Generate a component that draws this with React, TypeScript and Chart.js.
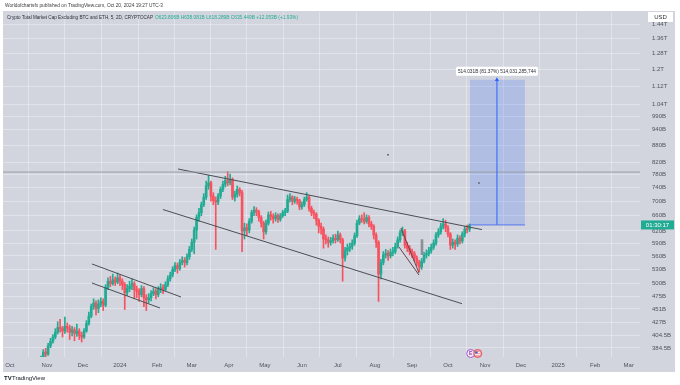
import React, { useEffect, useRef } from "react";
import { Chart, registerables } from "chart.js";

Chart.register(...registerables);

// x values are days counted from 1 Jan 2024; prices in billions USD
const candleStartDay = -66;
const candleStepDays = 2;
const firstOpen = 362;

const closeValues = [
  368, 378, 375, 388, 395, 402, 410, 418, 416, 412,
  420, 417, 410, 414, 408, 412, 405, 402, 412, 425,
  438, 455, 462, 452, 460, 465, 458, 492, 505, 500,
  508, 503, 512, 505, 498, 482, 490, 495, 500, 488,
  485, 478, 490, 472, 468, 472, 480, 485, 478, 488,
  492, 488, 498, 510, 518, 530, 538, 532, 545, 550,
  545, 558, 575, 592, 622, 655, 668, 690, 712, 745,
  755, 715, 702, 698, 715, 735, 750, 762, 755, 765,
  712, 720, 735, 725, 620, 628, 622, 645, 668, 675,
  670, 655, 640, 618, 640, 662, 658, 652, 660, 650,
  660, 668, 672, 705, 712, 700, 706, 702, 684, 690,
  705, 712, 680, 668, 664, 648, 632, 625, 600, 598,
  592, 596, 602, 598, 610, 598, 555, 572, 578, 582,
  590, 608, 640, 652, 650, 645, 655, 638, 632, 610,
  592, 520, 545, 562, 566, 560, 568, 570, 582, 598,
  615, 620, 585, 578, 570, 565, 555, 545, 535, 548,
  562, 565, 572, 580, 590, 610, 618, 632, 638, 628,
  612, 585, 592, 588, 602, 595, 612, 625, 623.806, 635.449,
];

const highValues = [
  372, 382, 384, 392, 400, 406, 416, 428, 432, 420,
  436, 426, 422, 420, 418, 424, 416, 410, 416, 430,
  445, 460, 470, 466, 468, 472, 470, 498, 512, 515,
  520, 514, 522, 518, 510, 502, 498, 505, 510, 504,
  495, 490, 496, 494, 478, 480, 486, 492, 490, 494,
  500, 498, 504, 516, 524, 536, 545, 544, 552, 558,
  556, 565, 582, 600, 630, 662, 680, 698, 722, 760,
  778, 760, 725, 712, 722, 742, 760, 775, 790, 782,
  770, 730, 745, 740, 732, 640, 638, 652, 675, 685,
  682, 675, 660, 645, 648, 670, 672, 665, 668, 665,
  666, 675, 680, 718, 722, 716, 714, 712, 706, 698,
  712, 725, 716, 686, 675, 668, 652, 640, 630, 610,
  605, 604, 610, 612, 620, 615, 602, 580, 588, 590,
  598, 615, 648, 660, 662, 668, 662, 660, 645, 636,
  615, 596, 552, 570, 575, 572, 576, 580, 590, 605,
  622, 630, 624, 592, 584, 576, 570, 560, 550, 554,
  568, 574, 580, 588, 598, 616, 626, 640, 652, 648,
  634, 616, 600, 598, 610, 608, 618, 632, 635, 638.081,
];

const lowValues = [
  358, 365, 370, 373, 385, 392, 399, 407, 410, 402,
  408, 410, 398, 404, 396, 403, 398, 394, 400, 410,
  422, 435, 450, 440, 444, 455, 448, 455, 488, 494,
  497, 496, 500, 496, 488, 450, 476, 484, 488, 470,
  472, 465, 474, 455, 448, 462, 466, 476, 470, 474,
  482, 480, 485, 494, 505, 514, 525, 522, 528, 540,
  535, 540, 552, 570, 565, 600, 645, 660, 685, 705,
  735, 700, 690, 575, 690, 708, 728, 742, 745, 748,
  705, 700, 712, 715, 570, 600, 608, 615, 640, 660,
  660, 645, 630, 600, 612, 635, 648, 640, 645, 642,
  645, 655, 660, 668, 698, 690, 694, 692, 676, 678,
  685, 700, 672, 660, 652, 635, 615, 612, 578, 588,
  580, 585, 590, 590, 594, 590, 505, 548, 562, 570,
  575, 585, 604, 636, 642, 638, 640, 630, 624, 600,
  580, 465, 510, 540, 555, 550, 555, 560, 565, 578,
  592, 608, 578, 570, 562, 556, 548, 538, 525, 530,
  544, 555, 560, 566, 575, 585, 604, 612, 625, 618,
  605, 575, 578, 575, 582, 588, 590, 605, 615, 618.289,
];

const monthTickDays = [-92, -61, -31, 0, 31, 60, 91, 121, 152, 182, 213, 244, 274, 305, 335, 366, 397, 425];
const monthTickLabels = ["Oct", "Nov", "Dec", "2024", "Feb", "Mar", "Apr", "May", "Jun", "Jul", "Aug", "Sep", "Oct", "Nov", "Dec", "2025", "Feb", "Mar"];

const priceTickValues = [384.5, 404.5, 427, 451, 475, 500, 530, 560, 590, 620, 660, 700, 740, 780, 820, 880, 940, 990, 1040, 1120, 1200, 1280, 1360, 1440];
const priceTickLabels = ["384.5B", "404.5B", "427B", "451B", "475B", "500B", "530B", "560B", "590B", "620B", "660B", "700B", "740B", "780B", "820B", "880B", "940B", "990B", "1.04T", "1.12T", "1.2T", "1.28T", "1.36T", "1.44T"];

const xRange = [-97.7, 434.4];
const yRange = [370.6, 1515.8];

// Drawings (day, price)
const upperChannel = [[48.5, 798.5], [302.4, 623.5]];
const lowerChannel = [[35.9, 676.7], [285.7, 460.7]];
const smallUpper = [[-23.4, 541.8], [51, 473.5]];
const smallLower = [[-23.4, 501.3], [33.4, 452.7]];
const wedgeA = [[234.7, 627.5], [249.8, 522.2]];
const wedgeB = [[233.1, 580.6], [249.8, 517.9]];
const horizontalLevel = 788.5;
const projectionDays = [292.4, 338.3, 314.9];
const projectionBase = 635.449;
const projectionTop = 1149.48;
const markerDots = [[223.9, 846], [299.9, 754]];
const grayMark = [252.3, 562.8, 598.5];

const headerText = "Worldofchartsfx published on TradingView.com, Oct 20, 2024 19:27 UTC-3";
const titleText = "Crypto Total Market Cap Excluding BTC and ETH, 5, 2D, CRYPTOCAP";
const ohlcText = "O623.806B H638.081B L618.289B C635.449B +12.053B (+1.93%)";
const projectionText = "514.031B (81.37%) 514,031,285,744";
const countdownText = "01:30:17";

const UP = "#22ab94";
const DOWN = "#f7525f";
const BG = "#d2d5dd";
const FONT = "'Liberation Sans', Arial, sans-serif";

const toPts = (arr: number[][]) => arr.map(([x, y]) => ({ x, y }));

export default function App() {
  const ref = useRef<HTMLCanvasElement | null>(null);

  useEffect(() => {
    const canvas = ref.current;
    if (!canvas) return;

    const days = closeValues.map((_, i) => candleStartDay + i * candleStepDays);
    const opens = closeValues.map((_, i) => (i === 0 ? firstOpen : closeValues[i - 1]));
    const colors = closeValues.map((c, i) => (c >= opens[i] ? UP : DOWN));

    const lineDs = (pts: number[][], color: string, width = 1) => ({
      type: "line" as const,
      data: toPts(pts),
      borderColor: color,
      borderWidth: width,
      pointRadius: 0,
      fill: false,
      order: 0,
    });

    const decor = {
      id: "decor",
      beforeDraw(chart: any) {
        const ctx = chart.ctx;
        ctx.save();
        ctx.fillStyle = "#ffffff";
        ctx.fillRect(0, 0, chart.width, chart.height);
        ctx.fillStyle = BG;
        ctx.fillRect(3, 11, 672, 361);
        ctx.restore();
      },
      afterDraw(chart: any) {
        const ctx = chart.ctx;
        const xs = chart.scales.x;
        const ys = chart.scales.y;
        ctx.save();
        ctx.textBaseline = "middle";
        ctx.textAlign = "left";
        ctx.fillStyle = "#3a3a3a";
        ctx.font = `6px ${FONT}`;
        ctx.fillText(headerText, 5, 5.5, 158);
        ctx.fillStyle = "#2a2e39";
        ctx.fillText(titleText, 7, 17, 146);
        ctx.fillStyle = UP;
        ctx.fillText(ohlcText, 155, 17, 143);
        // USD box
        ctx.fillStyle = "#ffffff";
        ctx.fillRect(648, 12, 25, 10);
        ctx.fillStyle = "#2a2e39";
        ctx.textAlign = "center";
        ctx.fillText("USD", 660.5, 17.2);
        // price label
        const lastClose = closeValues[closeValues.length - 1];
        const py = ys.getPixelForValue(lastClose);
        ctx.fillStyle = UP;
        ctx.fillRect(641, py - 4.5, 33, 9);
        ctx.fillStyle = "#ffffff";
        ctx.fillText(countdownText, 657.5, py + 0.3);
        // projection label
        const cx = xs.getPixelForValue(projectionDays[2]);
        const ty = ys.getPixelForValue(projectionTop);
        ctx.fillStyle = "#ffffff";
        ctx.beginPath();
        if ((ctx as any).roundRect) (ctx as any).roundRect(cx - 41, ty - 13, 82, 9, 1.5);
        else ctx.rect(cx - 41, ty - 13, 82, 9);
        ctx.fill();
        ctx.fillStyle = "#2a2e39";
        ctx.font = `5.5px ${FONT}`;
        ctx.fillText(projectionText, cx, ty - 8.4, 78);
        // event icons
        const ey = 353.5;
        const ex1 = xs.getPixelForValue(293);
        ctx.beginPath();
        ctx.arc(ex1, ey, 4, 0, Math.PI * 2);
        ctx.fillStyle = "#f1e6f6";
        ctx.fill();
        ctx.strokeStyle = "#a35bc8";
        ctx.lineWidth = 1;
        ctx.stroke();
        ctx.fillStyle = "#8e3fb5";
        ctx.font = `bold 5px ${FONT}`;
        ctx.fillText("E", ex1, ey + 0.3);
        const ex2 = ex1 + 7;
        ctx.beginPath();
        ctx.arc(ex2, ey, 4, 0, Math.PI * 2);
        ctx.fillStyle = "#f4a4ab";
        ctx.fill();
        ctx.strokeStyle = "#e2505c";
        ctx.stroke();
        ctx.fillStyle = "#3d5bb8";
        ctx.fillRect(ex2 - 2.5, ey - 2, 2.5, 2);
        ctx.fillStyle = "#ffffff";
        ctx.fillRect(ex2, ey - 1.5, 2.5, 0.8);
        ctx.fillRect(ex2 - 2.5, ey + 0.5, 5, 0.8);
        // footer
        ctx.textAlign = "left";
        ctx.fillStyle = "#131722";
        ctx.font = `bold 6px ${FONT}`;
        ctx.fillText("TV", 4, 378.5);
        ctx.font = `6px ${FONT}`;
        ctx.fillText("TradingView", 12, 378.5);
        ctx.restore();
      },
    };

    const chart = new Chart(canvas, {
      type: "bar",
      data: {
        datasets: [
          {
            type: "bar",
            data: days.map((d, i) => ({ x: d, y: [lowValues[i], highValues[i]] })) as any,
            backgroundColor: colors,
            barThickness: 1,
            grouped: false,
            order: 3,
          } as any,
          {
            type: "bar",
            data: days.map((d, i) => ({ x: d, y: [opens[i], closeValues[i]] })) as any,
            backgroundColor: colors,
            barThickness: 2,
            minBarLength: 1,
            grouped: false,
            order: 2,
          } as any,
          {
            type: "bar",
            data: [{ x: grayMark[0], y: [grayMark[1], grayMark[2]] }] as any,
            backgroundColor: "#8d9098",
            barThickness: 2,
            grouped: false,
            order: 1,
          } as any,
          {
            type: "line",
            data: [
              { x: projectionDays[0], y: projectionTop },
              { x: projectionDays[1], y: projectionTop },
            ],
            borderWidth: 0,
            borderColor: "rgba(0,0,0,0)",
            backgroundColor: "rgba(41,98,255,0.2)",
            pointRadius: 0,
            fill: { value: projectionBase },
            order: 1,
          } as any,
          lineDs([[projectionDays[0], projectionBase], [projectionDays[1], projectionBase]], "#5577ee"),
          {
            type: "line",
            data: [
              { x: projectionDays[2], y: projectionBase },
              { x: projectionDays[2], y: projectionTop },
            ],
            borderColor: "#2962ff",
            borderWidth: 1,
            pointRadius: [0, 2.5],
            pointStyle: "triangle",
            pointBackgroundColor: "#2962ff",
            pointBorderWidth: 0,
            fill: false,
            order: 0,
          } as any,
          lineDs([[xRange[0], horizontalLevel], [xRange[1], horizontalLevel]], "#9a9da6"),
          lineDs(upperChannel, "#4c4e55"),
          lineDs(lowerChannel, "#4c4e55"),
          lineDs(smallUpper, "#4c4e55"),
          lineDs(smallLower, "#4c4e55"),
          lineDs(wedgeA, "#6a4048"),
          lineDs(wedgeB, "#6a4048"),
          {
            type: "line",
            data: toPts(markerDots),
            showLine: false,
            pointRadius: 0.8,
            pointBackgroundColor: "#333",
            pointBorderWidth: 0,
            order: 0,
          } as any,
        ],
      },
      options: {
        animation: false,
        responsive: false,
        devicePixelRatio: 1,
        events: [],
        layout: { padding: { left: 3, right: 5, top: 12, bottom: 14 }, autoPadding: false } as any,
        plugins: {
          legend: { display: false },
          tooltip: { enabled: false },
          title: { display: false },
        },
        scales: {
          x: {
            type: "linear",
            min: xRange[0],
            max: xRange[1],
            offset: false,
            bounds: "data",
            grid: { color: "rgba(236,238,244,0.55)", drawTicks: false, lineWidth: 1 },
            border: { display: false },
            ticks: {
              autoSkip: false,
              maxRotation: 0,
              padding: 5,
              color: "#50535e",
              font: { size: 6, family: FONT },
              callback: (v: any) => {
                const i = monthTickDays.indexOf(Number(v));
                return i >= 0 ? monthTickLabels[i] : "";
              },
            },
            afterBuildTicks: (s: any) => {
              s.ticks = monthTickDays.map((v) => ({ value: v }));
            },
            afterFit: (s: any) => {
              s.height = 14;
            },
          },
          y: {
            type: "logarithmic",
            position: "right",
            min: yRange[0],
            max: yRange[1],
            bounds: "data",
            grid: {
              color: "rgba(236,238,244,0.55)",
              drawTicks: true,
              tickLength: 12,
              tickColor: "rgba(0,0,0,0)",
              lineWidth: 1,
            },
            border: { display: false },
            ticks: {
              autoSkip: false,
              padding: 0,
              color: "#50535e",
              font: { size: 6, family: FONT },
              callback: (v: any) => {
                const i = priceTickValues.indexOf(Number(v));
                return i >= 0 ? priceTickLabels[i] : "";
              },
            },
            afterBuildTicks: (s: any) => {
              s.ticks = priceTickValues.map((v) => ({ value: v }));
            },
            afterFit: (s: any) => {
              s.width = 35;
            },
          },
        },
      } as any,
      plugins: [decor],
    });

    return () => chart.destroy();
  }, []);

  return (
    <div style={{ position: "fixed", left: 0, top: 0, width: 680, height: 385 }}>
      <canvas ref={ref} width={680} height={385} style={{ display: "block", width: 680, height: 385 }} />
    </div>
  );
}
